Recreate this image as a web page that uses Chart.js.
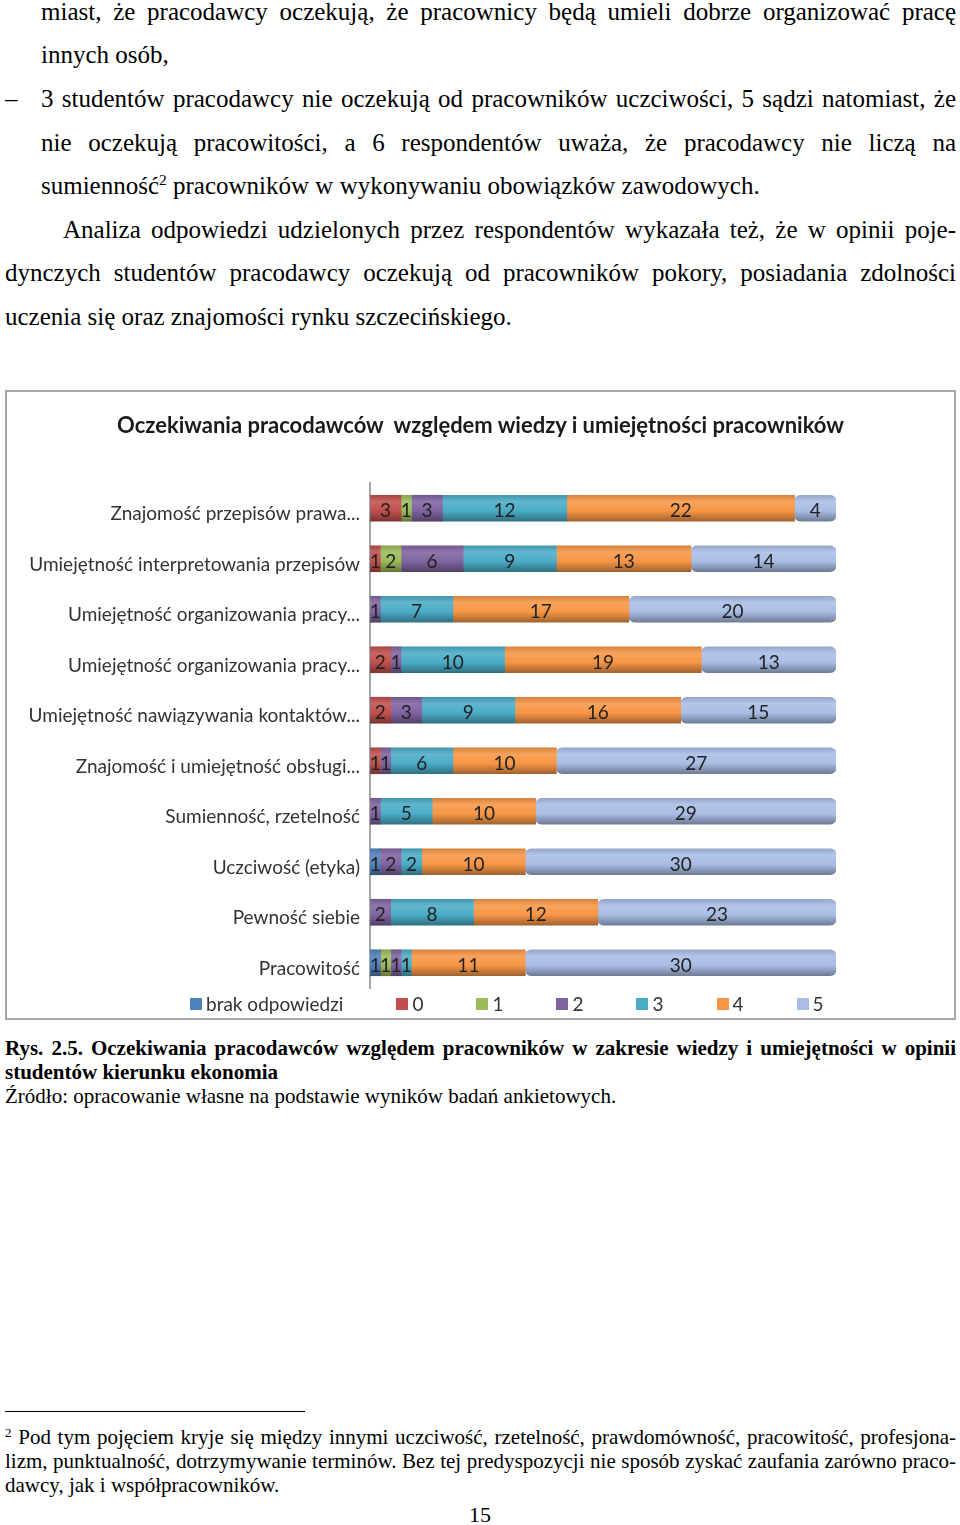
<!DOCTYPE html>
<html lang="pl">
<head>
<meta charset="utf-8">
<title>Oczekiwania pracodawców względem wiedzy i umiejętności pracowników</title>
<script src="https://cdn.jsdelivr.net/npm/chart.js@4.4.1/dist/chart.umd.min.js"></script>
<style>
  html, body { margin: 0; padding: 0; background: #fff; }
  body { width: 960px; height: 1525px; position: relative; overflow: hidden;
         font-family: "Liberation Serif", "Times New Roman", serif; color: #000; }
  .ln { position: absolute; left: 5px; right: 4px; font-size: 25px; line-height: 44px; }
  .in { left: 41px; }
  .ind { text-indent: 58px; }
  .j { text-align: justify; text-align-last: justify; }
  sup { font-size: 0.62em; line-height: 0; vertical-align: 0.55em; }
  .cap { position: absolute; left: 5px; right: 4px; font-size: 21px; line-height: 24px; }
  .fn { position: absolute; left: 5px; right: 4px; font-size: 21px; line-height: 24px; }
  #box { position: absolute; left: 5px; top: 390px; width: 947px; height: 626px;
         border: 2px solid #a6a6a6; }
  #tytul { position: absolute; left: 5px; width: 951px; top: 410px; text-align: center;
           font-family: Lato, sans-serif; font-weight: bold; font-size: 22px; line-height: 30px; color: #1a1a1a; }
  #legend { position: absolute; left: 190px; top: 993px; margin: 0; padding: 0; list-style: none;
            display: flex; font-family: Lato, sans-serif; font-size: 19px; color: #333; }
  #legend li { display: flex; align-items: center; margin-right: 53px; line-height: 22px; }
  #legend span { display: inline-block; width: 12px; height: 12px; margin-right: 4px; }
</style>
</head>
<body>

<div class="ln in j" style="top:-10px">miast, że pracodawcy oczekują, że pracownicy będą umieli dobrze organizować pracę</div>
<div class="ln in" style="top:33px">innych osób,</div>
<div class="ln" style="top:77px">–</div>
<div class="ln in j" style="top:77px">3 studentów pracodawcy nie oczekują od pracowników uczciwości, 5 sądzi natomiast, że</div>
<div class="ln in j" style="top:121px">nie oczekują pracowitości, a 6 respondentów uważa, że pracodawcy nie liczą na</div>
<div class="ln in" style="top:164px">sumienność<sup>2</sup> pracowników w wykonywaniu obowiązków zawodowych.</div>
<div class="ln ind j" style="top:208px">Analiza odpowiedzi udzielonych przez respondentów wykazała też, że w opinii poje-</div>
<div class="ln j" style="top:251px">dynczych studentów pracodawcy oczekują od pracowników pokory, posiadania zdolności</div>
<div class="ln" style="top:295px">uczenia się oraz znajomości rynku szczecińskiego.</div>

<div id="box"><canvas id="chart"></canvas></div>
<div id="tytul">Oczekiwania pracodawców&nbsp; względem wiedzy i umiejętności pracowników</div>
<ul id="legend"></ul>

<div class="cap j" style="top:1036px"><b>Rys. 2.5. Oczekiwania pracodawców względem pracowników w zakresie wiedzy i umiejętności w opinii</b></div>
<div class="cap" style="top:1060px"><b>studentów kierunku ekonomia</b></div>
<div class="cap" style="top:1084px">Źródło: opracowanie własne na podstawie wyników badań ankietowych.</div>

<div style="position:absolute; left:5px; top:1411px; width:300px; border-top:1px solid #000;"></div>
<div class="fn j" style="top:1425px"><sup>2</sup> Pod tym pojęciem kryje się między innymi uczciwość, rzetelność, prawdomówność, pracowitość, profesjona-</div>
<div class="fn j" style="top:1449px">lizm, punktualność, dotrzymywanie terminów. Bez tej predyspozycji nie sposób zyskać zaufania zarówno praco-</div>
<div class="fn" style="top:1473px">dawcy, jak i współpracowników.</div>
<div class="ln" style="top:1493px; left:0; right:0; text-align:center; font-size:22px;">15</div>

<script>
// kategorie (od góry)
const kategorie = [
  "Znajomość przepisów prawa...",
  "Umiejętność interpretowania przepisów",
  "Umiejętność organizowania pracy...",
  "Umiejętność organizowania pracy...",
  "Umiejętność nawiązywania kontaktów...",
  "Znajomość i umiejętność obsługi...",
  "Sumienność, rzetelność",
  "Uczciwość (etyka)",
  "Pewność siebie",
  "Pracowitość"
];

// liczba odpowiedzi dla każdej oceny
const brakOdp = [0, 0, 0, 0, 0, 0, 0, 1, 0, 1];
const ocena0  = [3, 1, 0, 2, 2, 1, 0, 0, 0, 0];
const ocena1  = [1, 2, 0, 0, 0, 0, 0, 0, 0, 1];
const ocena2  = [3, 6, 1, 1, 3, 1, 1, 2, 2, 1];
const ocena3  = [12, 9, 7, 10, 9, 6, 5, 2, 8, 1];
const ocena4  = [22, 13, 17, 19, 16, 10, 10, 10, 12, 11];
const ocena5  = [4, 14, 20, 13, 15, 27, 29, 30, 23, 30];

const serie = ["brak odpowiedzi", "0", "1", "2", "3", "4", "5"];
const kolory = ["#4f81bd", "#c0504d", "#9bbb59", "#8064a2", "#4bacc6", "#f79646", "#a9bde5"];

const fontChart = "Lato, sans-serif";

function shade(hex, amt) {
    const n = parseInt(hex.slice(1), 16);
    const t = amt < 0 ? 0 : 255, p = Math.abs(amt);
    const r = Math.round((n >> 16) + (t - (n >> 16)) * p);
    const g = Math.round(((n >> 8) & 255) + (t - ((n >> 8) & 255)) * p);
    const b = Math.round((n & 255) + (t - (n & 255)) * p);
    return "rgb(" + r + "," + g + "," + b + ")";
}

// walec - gradient pionowy dla każdego paska
function walec(base) {
    return function (c) {
        const chart = c.chart;
        const y = chart.scales.y;
        if (!chart.chartArea || !y || c.dataIndex === undefined) return base;
        const yc = y.getPixelForValue(c.dataIndex);
        const g = chart.ctx.createLinearGradient(0, yc - 13, 0, yc + 13);
        g.addColorStop(0, shade(base, -0.12));
        g.addColorStop(0.25, shade(base, 0.12));
        g.addColorStop(0.6, base);
        g.addColorStop(1, shade(base, -0.35));
        return g;
    };
}

const dane = [brakOdp, ocena0, ocena1, ocena2, ocena3, ocena4, ocena5];

const valueLabels = {
    id: "valueLabels",
    afterDatasetsDraw(chart) {
        const ctx = chart.ctx;
        ctx.save();
        ctx.font = "19px " + fontChart;
        ctx.fillStyle = "#222";
        ctx.textAlign = "center";
        ctx.textBaseline = "middle";
        chart.data.datasets.forEach(function (ds, i) {
            chart.getDatasetMeta(i).data.forEach(function (bar, j) {
                const v = ds.data[j];
                if (!v) return;
                ctx.fillText(v, (bar.x + bar.base) / 2, bar.y + 3);
            });
        });
        ctx.restore();
    }
};

// legenda w html
const htmlLegend = {
    id: "htmlLegend",
    afterUpdate(chart) {
        const ul = document.getElementById("legend");
        ul.innerHTML = "";
        chart.options.plugins.legend.labels.generateLabels(chart).forEach(function (item) {
            const li = document.createElement("li");
            const box = document.createElement("span");
            box.style.background = kolory[item.datasetIndex];
            li.appendChild(box);
            li.appendChild(document.createTextNode(item.text));
            ul.appendChild(li);
        });
    }
};

new Chart(document.getElementById("chart"), {
    type: "bar",
    data: {
        labels: kategorie,
        datasets: serie.map(function (s, i) {
            return {
                label: s,
                data: dane[i],
                backgroundColor: walec(kolory[i]),
                borderWidth: 0,
                borderRadius: 6,
                borderSkipped: false,
                barThickness: 26
            };
        })
    },
    options: {
        indexAxis: "y",
        responsive: true,
        maintainAspectRatio: false,
        animation: false,
        layout: { padding: { left: 0, right: 118, top: 91, bottom: 30 } },
        scales: {
            x: { stacked: true, min: 0, max: 45, display: false },
            y: {
                stacked: true,
                grid: { display: false, drawTicks: false },
                border: { display: true, color: "#a6a6a6", width: 2 },
                ticks: { font: { family: fontChart, size: 19 }, color: "#333", padding: 10, labelOffset: 6 },
                afterFit(scale) { scale.width = 363; }
            }
        },
        plugins: {
            legend: { display: false },
            tooltip: { enabled: false },
            title: { display: false }
        }
    },
    plugins: [valueLabels, htmlLegend]
});
</script>
</body>
</html>
